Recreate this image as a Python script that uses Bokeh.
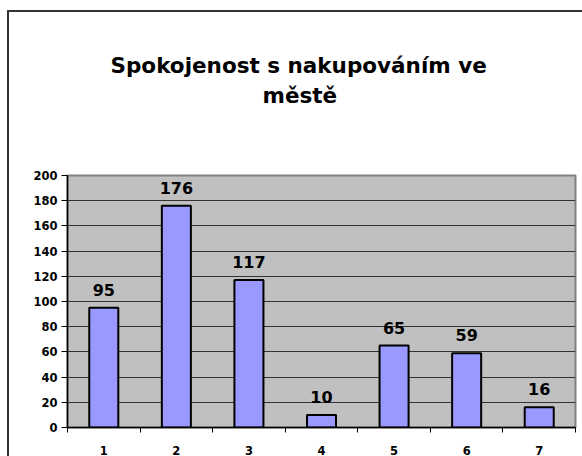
from bokeh.plotting import figure
from bokeh.models import ColumnDataSource, FixedTicker, Range1d, LabelSet, Title
from bokeh.core.properties import value
from bokeh.embed import file_html
from bokeh.resources import INLINE

categories = ["1", "2", "3", "4", "5", "6", "7"]
values = [95, 176, 117, 10, 65, 59, 16]
y_ticks = [0, 20, 40, 60, 80, 100, 120, 140, 160, 180, 200]
title_lines = ["Spokojenost s nakupováním ve", "městě"]

FONT = "DejaVu Sans"

xs = [i + 0.5 for i in range(len(categories))]
src = ColumnDataSource(dict(x=xs, top=values, label=[str(v) for v in values]))

p = figure(width=582, height=456, output_backend="svg", toolbar_location=None,
           x_range=Range1d(0, len(categories)), y_range=Range1d(0, 200),
           frame_width=508, frame_height=252,
           min_border_left=67, min_border_right=7, min_border_top=175, min_border_bottom=29)

# outer chart border (left and top edges visible), drawn behind a transparent canvas border
p.border_fill_color = None
p.styles = {
    "background-color": "#ffffff",
    "background-image": "linear-gradient(#333333, #333333), linear-gradient(#333333, #333333)",
    "background-position": "7px 10px, 7px 10px",
    "background-size": "2px 100%, 100% 2px",
    "background-repeat": "no-repeat",
}

p.background_fill_color = "#C0C0C0"
p.outline_line_color = "#808080"
p.outline_line_width = 2

p.vbar(x="x", top="top", width=0.4, bottom=0, source=src,
       fill_color="#9999FF", line_color="black", line_width=2)

labels = LabelSet(x="x", y="top", text="label", source=src, text_align="center",
                  text_baseline="alphabetic", y_offset=12, text_font=value(FONT),
                  text_font_style="bold", text_font_size="16px", text_color="black")
p.add_layout(labels)

# y axis
p.yaxis.ticker = FixedTicker(ticks=y_ticks)
p.yaxis.major_tick_out = 6
p.yaxis.major_tick_in = 0
p.yaxis.minor_tick_out = 0
p.yaxis.minor_tick_in = 0
p.yaxis.axis_line_color = "black"
p.yaxis.axis_line_width = 1.5
p.yaxis.major_tick_line_color = "black"
p.yaxis.major_label_text_font = FONT
p.yaxis.major_label_text_font_style = "bold"
p.yaxis.major_label_text_font_size = "11.5px"
p.yaxis.major_label_text_color = "black"
p.yaxis.major_label_standoff = 4

# x axis: labels at category centers, ticks at boundaries
p.xaxis.ticker = FixedTicker(ticks=xs, minor_ticks=list(range(len(categories) + 1)))
p.xaxis.major_label_overrides = {x: c for x, c in zip(xs, categories)}
p.xaxis.major_tick_out = 0
p.xaxis.major_tick_in = 0
p.xaxis.minor_tick_out = 5
p.xaxis.minor_tick_in = 0
p.xaxis.minor_tick_line_color = "black"
p.xaxis.axis_line_color = "black"
p.xaxis.axis_line_width = 1.5
p.xaxis.major_label_text_font = FONT
p.xaxis.major_label_text_font_style = "bold"
p.xaxis.major_label_text_font_size = "11.5px"
p.xaxis.major_label_text_color = "black"
p.xaxis.major_label_standoff = 13

p.ygrid.grid_line_color = "#333333"
p.ygrid.grid_line_width = 1
p.xgrid.grid_line_color = None

t2 = Title(text=title_lines[1], align="left", offset=195, standoff=135,
           text_font=FONT, text_font_style="bold", text_font_size="21.5px", text_color="black")
t1 = Title(text=title_lines[0], align="left", offset=43, standoff=-128,
           text_font=FONT, text_font_style="bold", text_font_size="21.5px", text_color="black")
p.add_layout(t2, "above")
p.add_layout(t1, "above")

open("out.html", "w").write(file_html(p, INLINE))
